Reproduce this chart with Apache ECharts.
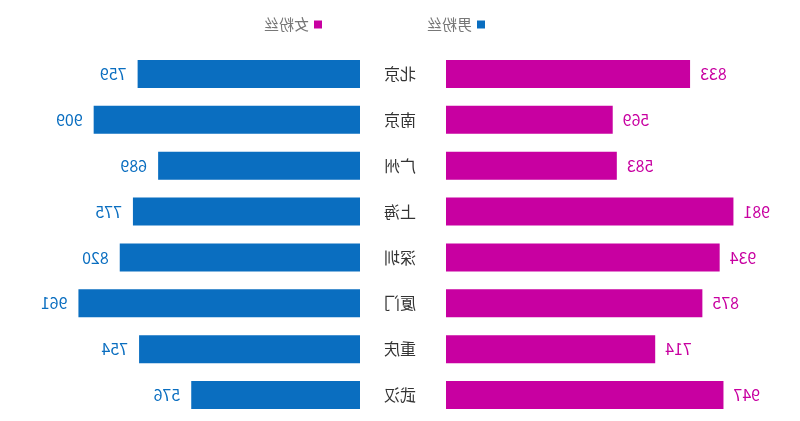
<!DOCTYPE html>
<html>
<head>
<meta charset="utf-8">
<script src="https://cdn.jsdelivr.net/npm/echarts@6/dist/echarts.min.js"></script>
<style>
html,body{margin:0;padding:0;background:#fff;}
#wrap{width:800px;height:421px;transform:scaleX(-1);}
#chart{width:800px;height:421px;}
</style>
</head>
<body>
<div id="wrap"><div id="chart"></div></div>
<script>
const categories = ['北京','南京','广州','上海','深圳','厦门','重庆','武汉'];
const maleFans = [759, 909, 689, 775, 820, 961, 754, 576];
const femaleFans = [833, 569, 583, 981, 934, 875, 714, 947];
const seriesNames = ['男粉丝','女粉丝'];
const blue = '#0A6EC0';
const pink = '#C800A1';
const font = "'Microsoft YaHei','Noto Sans CJK SC',sans-serif";

const chart = echarts.init(document.getElementById('chart'), null, {renderer:'canvas'});
chart.setOption({
  backgroundColor:'#fff',
  animation:false,
  textStyle:{fontFamily:font},
  legend:{
    data:seriesNames,
    left:310, top:12,
    itemGap:105, itemWidth:8, itemHeight:8, icon:'rect',
    textStyle:{fontSize:15, color:'#777', fontFamily:font}
  },
  grid:[
    {left:61, width:293, top:51, bottom:3},
    {left:440, width:293, top:51, bottom:3}
  ],
  xAxis:[
    {gridIndex:0, type:'value', inverse:true, min:0, max:1000, show:false},
    {gridIndex:1, type:'value', min:0, max:1000, show:false}
  ],
  yAxis:[
    {gridIndex:0, type:'category', data:categories, inverse:true, position:'right',
     axisLine:{show:false}, axisTick:{show:false}, splitLine:{show:false},
     axisLabel:{align:'center', margin:46, fontSize:16, color:'#333', fontFamily:font}},
    {gridIndex:1, type:'category', data:categories, inverse:true, show:false}
  ],
  series:[
    {name:seriesNames[1], type:'bar', xAxisIndex:0, yAxisIndex:0, data:femaleFans,
     barWidth:28, itemStyle:{color:pink},
     label:{show:true, position:'left', distance:10, fontSize:16, color:pink, fontFamily:font}},
    {name:seriesNames[0], type:'bar', xAxisIndex:1, yAxisIndex:1, data:maleFans,
     barWidth:28, itemStyle:{color:blue},
     label:{show:true, position:'right', distance:11, fontSize:16, color:blue, fontFamily:font}}
  ]
});
</script>
</body>
</html>
